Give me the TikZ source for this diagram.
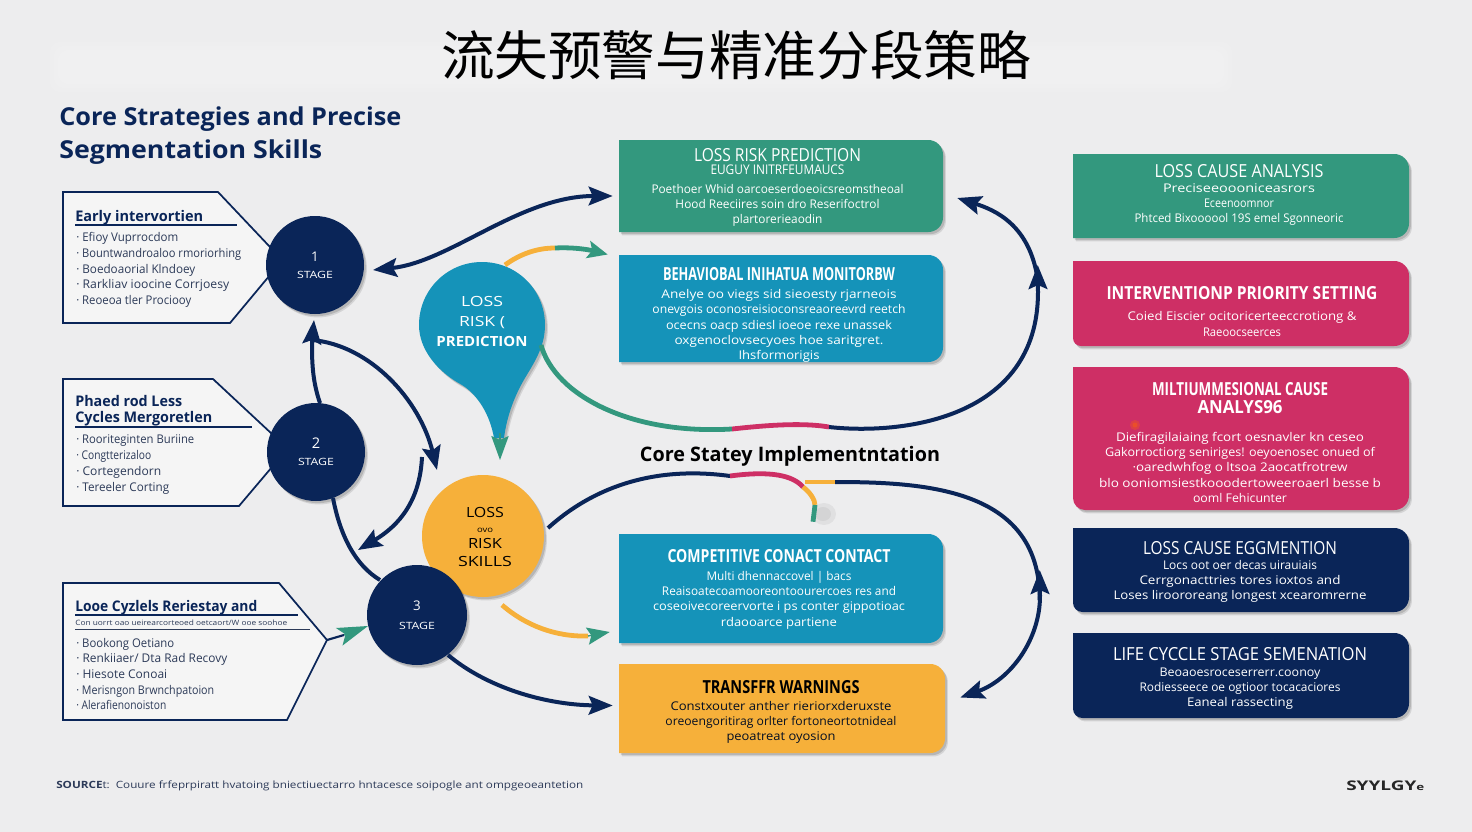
\documentclass[tikz,border=0pt]{standalone}
\usepackage{fontspec}
\usepackage{graphicx}
\setmainfont{Open Sans}
\newfontfamily\cjkfont{Noto Sans CJK SC}
\usetikzlibrary{arrows.meta,calc,shadows}
\newdimen\pxu \pxu=.75pt
\newcommand\fw[2]{\resizebox{#1\pxu}{\height}{#2}}
\newcommand\ttl[2]{\fw{#1}{\fontsize{13.5}{13.5}\selectfont #2}}
\newcommand\ttb[2]{\fw{#1}{\fontsize{13.5}{13.5}\selectfont\bfseries #2}}
\definecolor{navy}{HTML}{0A2558}
\definecolor{cgreen}{HTML}{33987E}
\definecolor{cblue}{HTML}{1593B9}
\definecolor{cpink}{HTML}{CE2F65}
\definecolor{cyellow}{HTML}{F6B03A}
\definecolor{bgc}{HTML}{EDEDEE}
\definecolor{ink}{HTML}{2C3A58}
\tikzset{
 softshadow/.style={drop shadow={shadow xshift=2.2pt,shadow yshift=-2.6pt,opacity=.10,fill=black},
                    drop shadow={shadow xshift=1.4pt,shadow yshift=-1.6pt,opacity=.14,fill=black}},
 cardbody/.style={inner sep=0pt,align=center,font=\fontsize{9}{11.4}\selectfont},
 leftbody/.style={inner sep=0pt,align=left,anchor=west,text=ink,font=\fontsize{9}{11.8}\selectfont},
 lefthead/.style={inner sep=0pt,align=left,anchor=west,text=navy,font=\fontsize{11}{12}\selectfont},
 tagbox/.style={draw=navy,line width=1.3pt,fill=white,fill opacity=.45,draw opacity=1},
 stagenode/.style={circle,fill=navy,text=white,minimum size=98\pxu,inner sep=0pt,align=center,softshadow,font=\fontsize{7.5}{13}\selectfont},
 navyline/.style={draw=navy,line width=3pt},
 tricolor/.style={line width=3.6pt},
 bighead/.style={-{Stealth[length=18pt,width=14pt,inset=3pt]}},
 bothheads/.style={{Stealth[length=18pt,width=14pt,inset=3pt]}-{Stealth[length=18pt,width=14pt,inset=3pt]}},
}
\newcommand\card[7]{%
 \path[fill=#6,softshadow] (#2,#3) [rounded corners=#7pt] -- (#2,#5)  [rounded corners=11pt] -- (#4,#5) -- (#4,#3) [sharp corners] -- cycle;
 \node[inner sep=0pt,minimum width={(#4-#2)*0.75pt},minimum height={(#5-#3)*0.75pt}] (#1) at ({(#2+#4)/2},{(#3+#5)/2}) {};}
\begin{document}
\begin{tikzpicture}[x=.75pt,y=-.75pt]
\useasboundingbox (0,0) rectangle (1472,832);
\fill[bgc] (0,0) rectangle (1472,832);
% faint band behind the title
\foreach \i in {0,4,8}{\fill[white,opacity=.10,rounded corners=8pt] (50+\i,42+\i) rectangle (1232-\i,92-\i);}
\node[inner sep=0pt] (maintitle) at (736,55) {\fw{590}{\cjkfont\fontsize{40}{40}\selectfont 流失预警与精准分段策略}};
\node[inner sep=0pt,align=left,anchor=north west,text=navy] (headline) at (59,106)
 {\fw{342}{\fontsize{18.5}{18.5}\selectfont\bfseries Core Strategies and Precise}\\[5.5pt]\fw{263}{\fontsize{18.5}{18.5}\selectfont\bfseries Segmentation Skills}};

% tag boxes on the left
\path[tagbox] (63,192) -- (218,192) -- (270,247) -- (270,275) -- (230,323) -- (63,323) -- cycle;
\path[tagbox] (63,379) -- (213,379) -- (272,434) -- (272,467) -- (239,506) -- (63,506) -- cycle;
\path[tagbox] (63,583) -- (279,583) -- (327,640) -- (287,720) -- (63,720) -- cycle;
\draw[navy,line width=.8pt] (75,225) -- (237,225);
\draw[navy,line width=.8pt] (75,427) -- (252,427);
\draw[navy,line width=.8pt] (75,615) -- (298,615);
\draw[ink,line width=.7pt] (75,629) -- (310,629);
\node[lefthead] (b1head) at (75,217.5) {\fw{128}{\bfseries Early intervortien}};
\node[leftbody] (b1list) at (76,270) {\fw{102}{· Efioy Vuprrocdom}\\\fw{165}{· Bountwandroaloo rmoriorhing}\\\fw{119}{· Boedoaorial Klndoey}\\\fw{153}{· Rarkliav ioocine Corrjoesy}\\\fw{115}{· Reoeoa tler Prociooy}};
\node[lefthead] (b2head) at (75,411) {\fw{107}{\bfseries Phaed rod Less}\\\fw{137}{\bfseries Cycles Mergoretlen}};
\node[leftbody] (b2list) at (76,464.5) {\fw{118}{· Rooriteginten Buriine}\\\fw{75}{· Congtterizaloo}\\\fw{85}{· Cortegendorn}\\\fw{93}{· Tereeler Corting}};
\node[lefthead] (b3head) at (75,607.5) {\fw{182}{\bfseries Looe Cyzlels Reriestay and}};
\node[inner sep=0pt,anchor=west,text=ink,font=\fontsize{5.5}{6}\selectfont] (b3sub) at (75,623) {\fw{212}{Con uorrt oao ueirearcorteoed oetcaort/W ooe soohoe}};
\node[leftbody] (b3list) at (76,674) {\fw{98}{· Bookong Oetiano}\\\fw{151}{· Renkiiaer/ Dta Rad Recovy}\\\fw{91}{· Hiesote Conoai}\\\fw{138}{· Merisngon Brwnchpatoion}\\\fw{90}{· Alerafienonoiston}};

% cards
\card{cardA}{619}{140}{943}{232}{cgreen}{0}
\card{cardB}{619}{255}{943}{362}{cblue}{0}
\card{cardC}{619}{534}{943}{643}{cblue}{0}
\card{cardD}{619}{664}{945}{753}{cyellow}{0}
\card{cardE}{1073}{154}{1409}{238}{cgreen}{0}
\card{cardF}{1073}{261}{1409}{346}{cpink}{6}
\card{cardG}{1073}{367}{1409}{510}{cpink}{9}
\card{cardH}{1073}{528}{1409}{612}{navy}{7}
\card{cardI}{1073}{633}{1409}{718}{navy}{7}
\fill[orange!80!red,opacity=.3] (1135,425) circle (5);
\fill[orange!80!red,opacity=.4] (1135,425) circle (2.5);

\node[cardbody,text=white] (cardAt) at (777.5,187.5) {\ttl{167}{LOSS RISK PREDICTION}\\[-1.5pt]\fw{134}{\fontsize{10}{10}\selectfont EUGUY INITRFEUMAUCS}\\[2.8pt]\fw{252}{Poethoer Whid oarcoeserdoeoicsreomstheoal}\\\fw{204}{Hood Reeciires soin dro Reserifoctrol}\\\fw{90}{plartorerieaodin}};
\node[cardbody,text=white] (cardBt) at (779,315) {\ttb{232}{BEHAVIOBAL INIHATUA MONITORBW}\\[2pt]\fw{235}{Anelye oo viegs sid sieoesty rjarneois}\\\fw{253}{onevgois oconosreisioconsreaoreevrd reetch}\\\fw{226}{ocecns oacp sdiesl ioeoe rexe unassek}\\\fw{209}{oxgenoclovsecyoes hoe saritgret.}\\\fw{81}{Ihsformorigis}};
\node[cardbody,text=white] (cardCt) at (779,589) {\ttb{223}{COMPETITIVE CONACT CONTACT}\\[2.5pt]\fw{145}{Multi dhennaccovel | bacs}\\\fw{234}{Reaisoatecoamooreontoourercoes res and}\\\fw{252}{coseoivecoreervorte i ps conter gippotioac}\\\fw{116}{rdaooarce partiene}};
\node[cardbody,text=navy!40!black] (cardDt) at (781,712) {\ttb{157}{\color{black}TRANSFFR WARNINGS}\\[1.5pt]\fw{221}{Constxouter anther rieriorxderuxste}\\\fw{231}{oreoengoritirag orlter fortoneortotnideal}\\\fw{109}{peoatreat oyosion}};
\node[cardbody,text=white] (cardEt) at (1239,195) {\ttl{169}{LOSS CAUSE ANALYSIS}\\[-.5pt]\fw{152}{Preciseeoooniceasrors}\\\fw{70}{Eceenoomnor}\\\fw{209}{Phtced Bixoooool 19S emel Sgonneoric}};
\node[cardbody,text=white] (cardFt) at (1242,311.5) {\ttb{271}{INTERVENTIONP PRIORITY SETTING}\\[4.5pt]\fw{229}{Coied Eiscier ocitoricerteeccrotiong \&}\\\fw{78}{Raeoocseerces}};
\node[cardbody,text=white] (cardGt) at (1240,442.5) {\ttb{176}{MILTIUMMESIONAL CAUSE}\\[2pt]\ttb{85}{ANALYS96}\\[9.5pt]\fw{248}{Diefiragilaiaing fcort oesnavler kn ceseo}\\\fw{270}{Gakorroctiorg seniriges! oeyoenosec onued of}\\\fw{215}{·oaredwhfog o ltsoa 2aocatfrotrew}\\\fw{282}{blo ooniomsiestkooodertoweeroaerl besse b}\\\fw{94}{ooml Fehicunter}};
\node[cardbody,text=white] (cardHt) at (1240,572) {\ttl{194}{LOSS CAUSE EGGMENTION}\\[-.7pt]\fw{154}{Locs oot oer decas uirauiais}\\\fw{201}{Cerrgonacttries tores ioxtos and}\\\fw{253}{Loses liroororeang longest xcearomrerne}};
\node[cardbody,text=white] (cardIt) at (1240,678.5) {\ttl{254}{LIFE CYCCLE STAGE SEMENATION}\\[.3pt]\fw{161}{Beoaoesroceserrerr.coonoy}\\\fw{201}{Rodiesseece oe ogtioor tocacaciores}\\\fw{106}{Eaneal rassecting}};

% pin and circles
\path[fill=cblue,softshadow] (482,262) .. controls (517,262) and (545,290) .. (545,325) .. controls (545,345) and (536,360) .. (525,378) .. controls (515,395) and (507,415) .. (504,438) -- (494,438) .. controls (490,415) and (478,395) .. (462,385) .. controls (438,372) and (419,350) .. (419,325) .. controls (419,290) and (447,262) .. (482,262) -- cycle;
\node[inner sep=0pt,align=center,text=white,font=\fontsize{10.5}{15}\selectfont] (pin) at (482,321) {\fw{42}{LOSS}\\\fw{46}{RISK (}\\\fw{91}{\bfseries PREDICTION}};
\node[circle,fill=cyellow,minimum size=122\pxu,inner sep=0pt,softshadow] (risk) at (483,536) {};
\node[inner sep=0pt,align=center,text=black,font=\fontsize{10.5}{13}\selectfont] (risktext) at (485,537) {\fw{38}{LOSS}\\[-2pt]\fw{16}{\fontsize{6}{6}\selectfont ovo}\\[-1pt]\fw{34}{RISK}\\[1pt]\fw{54}{SKILLS}};
\node[stagenode] (s1) at (315,265) {\fontsize{10}{10}\selectfont 1\\\fw{36}{STAGE}};
\node[stagenode] (s2) at (316,452) {\fontsize{11}{11}\selectfont 2\\\fw{36}{STAGE}};
\node[stagenode,minimum size=100\pxu] (s3) at (417,615) {\fontsize{10}{10}\selectfont 3\\[1.5pt]\fw{36}{STAGE}};

% connectors
\draw[navyline,bothheads] ($(s1)+(58,5)$) .. controls (450,262) and (520,196) .. ($(cardA.west)+(-6,10)$);
\draw[navyline,bighead] ($(s2)+(4,-49)$) .. controls (312,380) and (312,360) .. (312,342) -- ($(s1)+(-1,55)$);
\draw[navyline,bighead] ($(s1)+(-3,75)$) .. controls (370,345) and (420,400) .. ($(risk)+(-46,-66)$);
\draw[navyline,bighead] ($(s2)+(106,5)$) .. controls (420,500) and (400,525) .. ($(s2)+(42,98)$);
\draw[navyline] ($(s2)+(17,46)$) .. controls (340,535) and (355,565) .. ($(s3)+(-37,-35)$);
\draw[navyline,bighead] ($(s3)+(31,40)$) .. controls (490,690) and (550,705) .. ($(cardD.west)+(-6,-3)$);
% lower green, pink, navy run to the right
\coordinate (runA) at (732,429);
\coordinate (runB) at (829,427);
\draw[cgreen,tricolor] ($(pin)+(59,24)$) .. controls (555,395) and (630,435) .. (runA);
\draw[cpink,tricolor] (runA) .. controls (760,426) and (800,422) .. (runB);
\draw[navyline,bighead] ($(cardE.west)+(-35,84)$) .. controls (1030,225) and (995,210) .. ($(cardA.east)+(14,12)$);
\draw[navyline,bighead] (runB) .. controls (900,435) and (1038,420) .. (1038,292) -- ($(cardE.west)+(-35,69)$);
% upper yellow to green arrow
\coordinate (runC) at (555,248);
\draw[cyellow,tricolor] ($(pin)+(23,-56)$) .. controls (520,254) and (537,248) .. (runC);
\draw[cgreen,tricolor,-{Stealth[length=15pt,width=13pt,inset=3pt]}] (runC) .. controls (575,247) and (590,250) .. ($(cardB.west)+(-11,-54)$);
% pin to skills
\draw[cgreen,line width=1pt,-{Stealth[length=18pt,width=13pt,inset=3pt]}] ($(pin)+(18,112)$) -- ($(risk)+(17,-76)$);
% skills run
\coordinate (runD) at (730,476);
\coordinate (runE) at (803,487);
\coordinate (runF) at (815,505);
\coordinate (runG) at (805,482);
\coordinate (runH) at (835,482);
\fill[black,opacity=.05] (824,514) ellipse (12 and 11);
\fill[black,opacity=.05] (823,514) ellipse (8 and 7);
\draw[navyline] ($(risk)+(65,-8)$) .. controls (590,490) and (650,465) .. (runD);
\draw[cpink,tricolor] (runD) .. controls (760,472) and (790,472) .. (runE);
\draw[cyellow,tricolor] (runE) .. controls (810,492) and (815,500) .. (runF);
\draw[cgreen,tricolor] (runF) -- ($(cardC.north)+(32,-12)$);
\draw[cyellow,tricolor] (runG) -- (runH);
\draw[navyline] (runH) .. controls (930,482) and (1040,490) .. ($(cardH.west)+(-33,30)$);
\draw[navyline,bothheads] ($(cardD.east)+(15,-11)$) .. controls (1010,680) and (1040,640) .. (1040,596) -- ($(cardH.west)+(-33,0)$);
% lower arrow from skills
\coordinate (runJ) at (588,636);
\draw[cyellow,tricolor] ($(risk)+(19,69)$) .. controls (525,625) and (555,637) .. (runJ);
\draw[cgreen,line width=1pt,-{Stealth[length=17pt,width=13pt,inset=3pt]}] (runJ) -- ($(cardC.west)+(-9,43.5)$);
% tag 3 to stage 3
\coordinate (tagtip) at (327,640);
\coordinate (tagmid) at (344,635);
\draw[navy,line width=1.6pt] (tagtip) -- (tagmid);
\draw[cgreen,line width=1pt,-{Stealth[length=23pt,width=14pt,inset=5pt]}] (tagmid) -- ($(s3)+(-49,11)$);

% footer
\node[inner sep=0pt,anchor=west,text=ink,font=\fontsize{7.5}{8}\selectfont] (source) at (56,786) {\fw{527}{{\bfseries SOURCE}t:\ \ Couure frfeprpiratt hvatoing bniectiuectarro hntacesce soipogle ant ompgeoeantetion}};
\node[inner sep=0pt,anchor=west,text=black!85,font=\fontsize{10}{10}\selectfont] (brand) at (1346,786) {\fw{78}{\bfseries SYYLGY{\fontsize{7}{7}\selectfont e}}};
\node[inner sep=0pt,text=black] (impl) at (790,456) {\fw{300}{\fontsize{15}{15}\selectfont\bfseries Core Statey Implementntation}};
\end{tikzpicture}
\end{document}
